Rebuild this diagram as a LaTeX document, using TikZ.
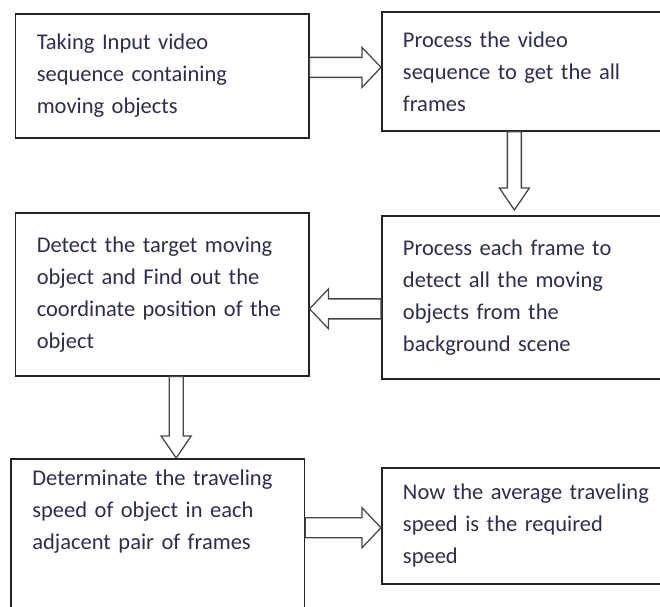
\documentclass[tikz,border=0pt]{standalone}
\usepackage{fontspec}
\setmainfont{Carlito}
\usetikzlibrary{calc}

\definecolor{boxline}{RGB}{35,35,35}
\definecolor{arrowline}{RGB}{70,70,70}
\definecolor{boxtext}{RGB}{45,45,80}

\tikzset{
  shaftwd/.store in=\shaftwd,
  headwd/.store in=\headwd,
  headlen/.store in=\headlen,
  stepbox/.style={draw=boxline, line width=1.1pt, anchor=north west, align=left,
    text width=6.27cm, inner xsep=0.53cm, inner ysep=0.275cm, text=boxtext,
    font=\fontsize{16}{22.8}\selectfont},
  blockarrow/.style={draw=arrowline, line width=0.9pt, line join=miter, to path={
    ($(\tikztostart)!\shaftwd!90:(\tikztotarget)$)
    -- ($($(\tikztotarget)!\headlen!(\tikztostart)$)!\shaftwd!90:(\tikztotarget)$)
    -- ($($(\tikztotarget)!\headlen!(\tikztostart)$)!\headwd!90:(\tikztotarget)$)
    -- (\tikztotarget)
    -- ($($(\tikztotarget)!\headlen!(\tikztostart)$)!\headwd!-90:(\tikztotarget)$)
    -- ($($(\tikztotarget)!\headlen!(\tikztostart)$)!\shaftwd!-90:(\tikztotarget)$)
    -- ($(\tikztostart)!\shaftwd!-90:(\tikztotarget)$)
    -- cycle}},
  harrow/.style={blockarrow, shaftwd=0.25cm, headwd=0.5cm, headlen=0.475cm},
  varrow/.style={blockarrow, shaftwd=0.175cm, headwd=0.375cm, headlen=0.55cm},
}

\begin{document}
\begin{tikzpicture}
  \useasboundingbox (0,0) rectangle (16.5,15.175);
  \clip (0,0) rectangle (16.5,15.175);

  % first row
  \node[stepbox, minimum height=3.1cm] (input) at (0.37,14.85)
    {Taking Input video\\ sequence containing\\ moving objects};
  \node[stepbox, minimum height=2.98cm] (frames) at (9.525,14.9)
    {Process the video\\ sequence to get the all\\ frames};

  % second row
  \node[stepbox, minimum height=4.075cm] (target) at (0.37,9.875)
    {Detect the target moving\\ object and Find out the\\ coordinate position of the\\ object};
  \node[stepbox, minimum height=4.075cm] (movers) at (9.525,9.8)
    {Process each frame to\\ detect all the moving\\ objects from the\\ background scene};

  % third row
  \node[stepbox, text depth=5cm] (speed) at (0.26,3.725)
    {Determinate the traveling\\ speed of object in each\\ adjacent pair of frames};
  \node[stepbox, minimum height=2.9cm] (average) at (9.525,3.5)
    {Now the average traveling\\ speed is the required\\ speed};

  % arrow ends
  \coordinate (a1s) at ($(input.east |- frames.west)+(0,0.1)$);
  \coordinate (a1e) at ($(frames.west)+(0,0.1)$);
  \coordinate (a2s) at ($(frames.south)+(-0.35,0)$);
  \coordinate (a2e) at ($(movers.north)+(-0.35,0.125)$);
  \coordinate (a3s) at ($(movers.west)+(0,-0.29)$);
  \coordinate (a3e) at (target.east |- a3s);
  \coordinate (a4s) at ($(target.south)+(0.35,0)$);
  \coordinate (a4e) at (a4s |- speed.north);
  \coordinate (a5s) at ($(speed.east |- average.west)+(0,-0.05)$);
  \coordinate (a5e) at ($(average.west)+(0,-0.05)$);

  % arrows
  \draw[harrow] (a1s) to (a1e);
  \draw[varrow] (a2s) to (a2e);
  \draw[harrow] (a3s) to (a3e);
  \draw[varrow] (a4s) to (a4e);
  \draw[harrow] (a5s) to (a5e);
\end{tikzpicture}
\end{document}
